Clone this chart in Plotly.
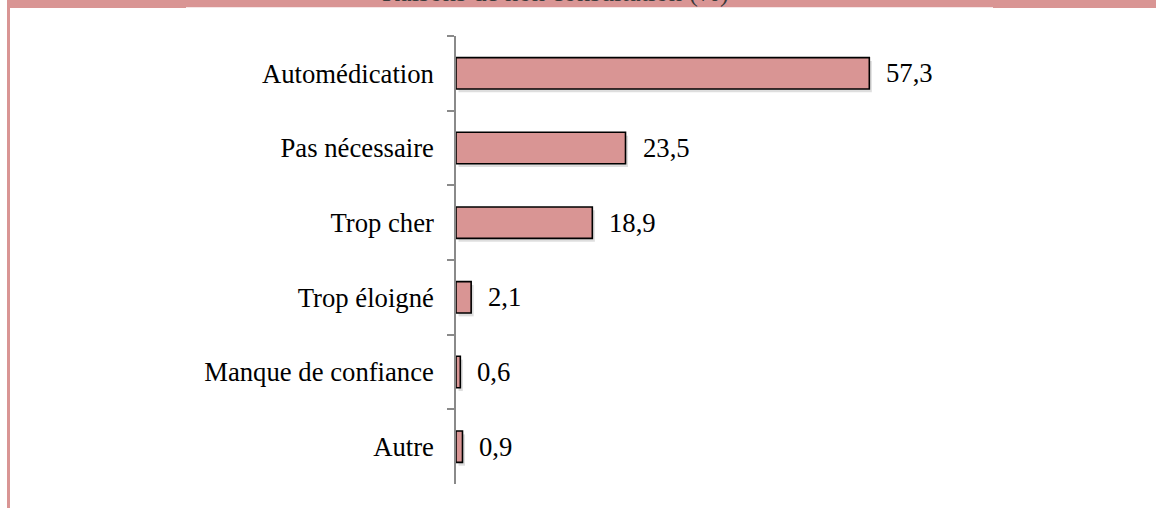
import plotly.graph_objects as go

categories = ["Automédication", "Pas nécessaire", "Trop cher", "Trop éloigné",
              "Manque de confiance", "Autre"]
values = [57.3, 23.5, 18.9, 2.1, 0.6, 0.9]
title_text = "Raisons de non consultation (%)"

W, H = 1156, 508
L, R, T, B = 456, 159, 36, 24
pw, ph = W - L - R, H - T - B

def px_x(p):
    return (p - L) / pw

def px_y(p):
    return 1 - (p - T) / ph

PINK = "#D99594"
FONT = "Liberation Serif, Times New Roman, serif"
FS = 26.7

fig = go.Figure()

# soft shadow
fig.add_trace(go.Bar(
    y=categories, x=values, base=0.35, orientation="h",
    width=0.42, offset=-0.21 + 0.045,
    marker=dict(color="rgba(0,0,0,0.13)", line=dict(width=0)),
    hoverinfo="skip", showlegend=False,
))
fig.add_trace(go.Bar(
    y=categories, x=values, orientation="h", width=0.42, offset=-0.21,
    marker=dict(color=PINK, line=dict(color="black", width=1.6)),
    showlegend=False,
))

for c, v in zip(categories, values):
    fig.add_annotation(x=v, y=c, xref="x", yref="y", text=f"{v:.1f}".replace(".", ","),
                       showarrow=False, xanchor="left", xshift=15,
                       font=dict(family=FONT, size=FS, color="black"))

# frame decoration
shapes = [
    dict(type="rect", xref="paper", yref="paper", x0=px_x(7), x1=px_x(W), y0=px_y(7.3), y1=px_y(0),
         fillcolor=PINK, line=dict(width=0), layer="below"),
    dict(type="rect", xref="paper", yref="paper", x0=px_x(7), x1=px_x(10), y0=px_y(H), y1=px_y(0),
         fillcolor=PINK, line=dict(width=0), layer="below"),
    dict(type="rect", xref="paper", yref="paper", x0=px_x(10), x1=px_x(186), y0=px_y(8), y1=px_y(7),
         fillcolor=PINK, line=dict(width=0), layer="below"),
    dict(type="rect", xref="paper", yref="paper", x0=px_x(993), x1=px_x(W), y0=px_y(8), y1=px_y(7),
         fillcolor=PINK, line=dict(width=0), layer="below"),
]

fig.add_annotation(x=px_x(731), y=px_y(9.2), xref="paper", yref="paper", text=title_text,
                   showarrow=False, xanchor="right", yanchor="bottom",
                   font=dict(family=FONT, size=FS, color="#3a3a3a"))

fig.update_layout(
    width=W, height=H, margin=dict(l=L, r=R, t=T, b=B),
    paper_bgcolor="white", plot_bgcolor="white",
    barmode="overlay", shapes=shapes,
    xaxis=dict(visible=False, range=[0, 75], fixedrange=True),
    yaxis=dict(autorange="reversed", showline=True, linecolor="#8a8a8a", linewidth=1.5,
               ticks="outside", ticklen=7, tickcolor="#8a8a8a", tickwidth=1.5,
               tickson="boundaries", showgrid=False, zeroline=False, fixedrange=True,
               ticklabelstandoff=15,
               tickfont=dict(family=FONT, size=FS, color="black")),
)

fig.write_html("out.html", config={"displayModeBar": False},
               post_script="document.body.style.margin='0';document.body.style.overflow='hidden';")
